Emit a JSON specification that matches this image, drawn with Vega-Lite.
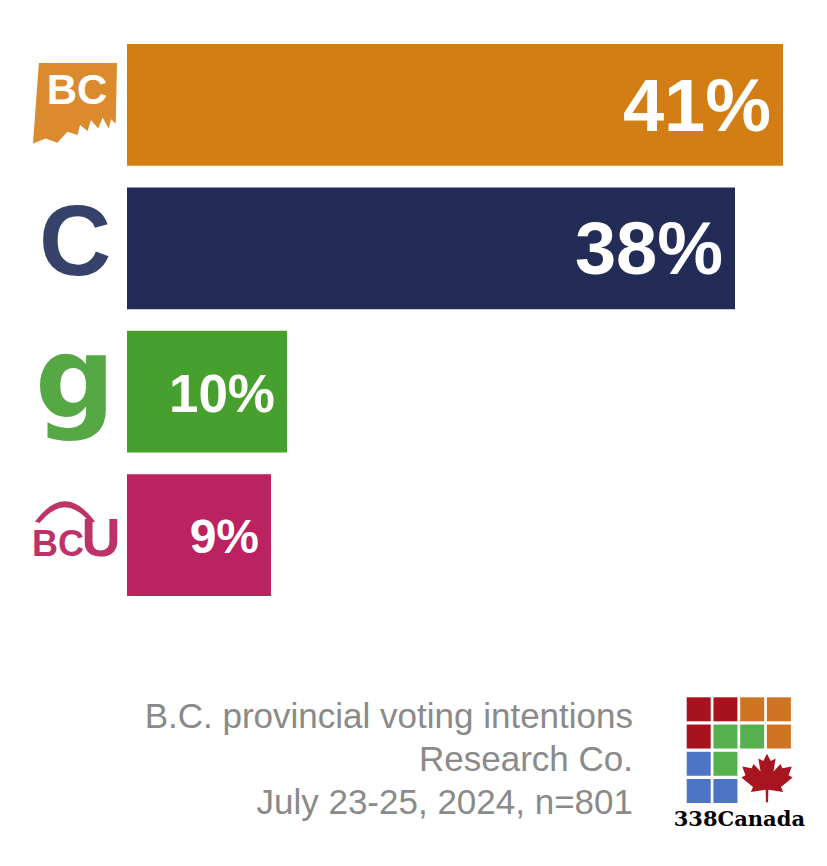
{
  "$schema": "https://vega.github.io/schema/vega-lite/v6.json",
  "width": 827,
  "height": 866,
  "autosize": {"type": "none"},
  "padding": 0,
  "background": "white",
  "config": {"view": {"stroke": null}, "font": "Liberation Sans"},
  "datasets": {
    "parties": [
      {"party": "NDP", "pct": 41, "label": "41%"},
      {"party": "Conservative", "pct": 38, "label": "38%"},
      {"party": "Green", "pct": 10, "label": "10%"},
      {"party": "United", "pct": 9, "label": "9%"}
    ],
    "grid": [
      {"row": 1, "col": 1, "colour": "red"},
      {"row": 1, "col": 2, "colour": "red"},
      {"row": 1, "col": 3, "colour": "orange"},
      {"row": 1, "col": 4, "colour": "orange"},
      {"row": 2, "col": 1, "colour": "red"},
      {"row": 2, "col": 2, "colour": "green"},
      {"row": 2, "col": 3, "colour": "green"},
      {"row": 2, "col": 4, "colour": "orange"},
      {"row": 3, "col": 1, "colour": "blue"},
      {"row": 3, "col": 2, "colour": "green"},
      {"row": 4, "col": 1, "colour": "blue"},
      {"row": 4, "col": 2, "colour": "blue"}
    ],
    "footer": [
      {"line": 1, "text": "B.C. provincial voting intentions"},
      {"line": 2, "text": "Research Co."},
      {"line": 3, "text": "July 23-25, 2024, n=801"}
    ]
  },
  "layer": [
    {
      "data": {"name": "parties"},
      "encoding": {
        "y": {
          "field": "party",
          "type": "nominal",
          "scale": {
            "domain": ["NDP", "Conservative", "Green", "United"],
            "range": [44, 596],
            "paddingInner": 0.151,
            "paddingOuter": 0
          },
          "axis": null
        },
        "x": {
          "field": "pct",
          "type": "quantitative",
          "scale": {"domain": [-7.9375, 43.75], "nice": false, "zero": false},
          "axis": null
        }
      },
      "layer": [
        {
          "mark": {"type": "bar"},
          "encoding": {
            "x2": {"datum": 0},
            "color": {
              "field": "party",
              "type": "nominal",
              "scale": {
                "domain": ["NDP", "Conservative", "Green", "United"],
                "range": ["#D37E15", "#232C56", "#47A02E", "#BC2160"]
              },
              "legend": null
            }
          }
        },
        {
          "transform": [{"filter": "datum.pct > 20"}],
          "mark": {"type": "text", "align": "right", "baseline": "middle", "dx": -12, "dy": 4, "fontWeight": "bold", "fill": "white", "fontSize": 74},
          "encoding": {"text": {"field": "label"}}
        },
        {
          "transform": [{"filter": "datum.party === 'Green'"}],
          "mark": {"type": "text", "align": "right", "baseline": "middle", "dx": -12, "dy": 4, "fontWeight": "bold", "fill": "white", "fontSize": 53},
          "encoding": {"text": {"field": "label"}}
        },
        {
          "transform": [{"filter": "datum.party === 'United'"}],
          "mark": {"type": "text", "align": "right", "baseline": "middle", "dx": -12, "dy": 4, "fontWeight": "bold", "fill": "white", "fontSize": 48},
          "encoding": {"text": {"field": "label"}}
        },
        {
          "transform": [{"filter": "datum.party === 'NDP'"}],
          "mark": {
            "type": "point",
            "shape": "M -0.86 -1 L 1 -1 L 0.97 0.45 L 0.86 0.34 L 0.8 0.56 L 0.66 0.3 L 0.55 0.56 L 0.38 0.36 L 0.3 0.62 L 0.12 0.48 L 0.06 0.72 L -0.18 0.64 L -0.42 0.9 L -0.7 0.8 L -1 0.92 Z",
            "filled": true,
            "size": 7056,
            "color": "#DB8A2D",
            "opacity": 1
          },
          "encoding": {"x": {"datum": -3.25}}
        },
        {
          "transform": [{"filter": "datum.party === 'NDP'"}],
          "mark": {"type": "text", "text": "BC", "fontSize": 42, "fontWeight": "bold", "color": "white", "align": "center", "baseline": "middle", "dy": -14},
          "encoding": {"x": {"datum": -3.125}}
        },
        {
          "transform": [{"filter": "datum.party === 'Conservative'"}],
          "mark": {"type": "text", "text": "C", "fontSize": 100, "fontWeight": "bold", "color": "#37426A", "align": "center", "baseline": "middle", "dy": -3},
          "encoding": {"x": {"datum": -3.25}}
        },
        {
          "transform": [{"filter": "datum.party === 'Green'"}],
          "mark": {"type": "text", "text": "g", "fontSize": 112, "fontWeight": "bold", "font": "DejaVu Sans", "color": "#55A843", "align": "center", "baseline": "alphabetic", "dy": 25},
          "encoding": {"x": {"datum": -3.25}}
        },
        {
          "transform": [{"filter": "datum.party === 'United'"}],
          "mark": {
            "type": "point",
            "shape": "M -1 -0.45 Q 0 -1.8 1 -0.45 L 0.85 -0.4 Q 0 -1.45 -0.85 -0.4 Z",
            "filled": true,
            "size": 3600,
            "color": "#BD3268",
            "opacity": 1
          },
          "encoding": {"x": {"datum": -3.875}}
        },
        {
          "transform": [{"filter": "datum.party === 'United'"}],
          "mark": {"type": "text", "text": "BC", "fontSize": 36, "fontWeight": "bold", "color": "#BD3268", "align": "center", "baseline": "alphabetic", "dy": 21},
          "encoding": {"x": {"datum": -4.3125}}
        },
        {
          "transform": [{"filter": "datum.party === 'United'"}],
          "mark": {"type": "text", "text": "U", "fontSize": 54, "fontWeight": "bold", "color": "#BD3268", "align": "center", "baseline": "alphabetic", "dy": 21},
          "encoding": {"x": {"datum": -1.625}}
        }
      ]
    },
    {
      "layer": [
        {
          "data": {"name": "grid"},
          "mark": {"type": "point", "shape": "square", "filled": true, "size": 576, "opacity": 1},
          "encoding": {
            "x": {
              "field": "col",
              "type": "quantitative",
              "scale": {"domain": [1, 4], "range": [698.7, 778.9], "nice": false, "zero": false},
              "axis": null
            },
            "y": {
              "field": "row",
              "type": "quantitative",
              "scale": {"domain": [1, 4], "range": [709.3, 791], "nice": false, "zero": false},
              "axis": null
            },
            "color": {
              "field": "colour",
              "type": "nominal",
              "scale": {
                "domain": ["red", "orange", "green", "blue"],
                "range": ["#A6121E", "#CF7420", "#56B04E", "#4E74C6"]
              },
              "legend": null
            }
          }
        },
        {
          "data": {"values": [{}]},
          "mark": {
            "type": "point",
            "shape": "M 0 -1 L 0.14 -0.73 L 0.32 -0.82 L 0.24 -0.34 L 0.5 -0.62 L 0.57 -0.46 L 0.92 -0.53 L 0.8 -0.2 L 0.95 -0.12 L 0.52 0.24 L 0.6 0.42 L 0.05 0.34 L 0.04 0.8 L -0.04 0.8 L -0.05 0.34 L -0.6 0.42 L -0.52 0.24 L -0.95 -0.12 L -0.8 -0.2 L -0.92 -0.53 L -0.57 -0.46 L -0.5 -0.62 L -0.24 -0.34 L -0.32 -0.82 L -0.14 -0.73 Z",
            "filled": true,
            "size": 2900,
            "color": "#A81420",
            "opacity": 1
          },
          "encoding": {"x": {"datum": 3.555}, "y": {"datum": 3.62}}
        },
        {
          "data": {"values": [{}]},
          "mark": {"type": "text", "text": "338Canada", "font": "DejaVu Serif", "fontWeight": "bold", "fontSize": 21, "align": "center", "baseline": "alphabetic", "color": "black"},
          "encoding": {"x": {"datum": 2.52}, "y": {"datum": 5.27}}
        }
      ]
    },
    {
      "data": {"name": "footer"},
      "mark": {"type": "text", "align": "right", "baseline": "alphabetic", "fontSize": 35, "color": "#8a8a8a", "font": "Liberation Sans"},
      "encoding": {
        "x": {"datum": 1, "scale": {"domain": [0, 1], "range": [0, 633]}, "axis": null},
        "y": {
          "field": "line",
          "type": "quantitative",
          "scale": {"domain": [1, 3], "range": [728, 814], "nice": false, "zero": false},
          "axis": null
        },
        "text": {"field": "text"}
      }
    }
  ],
  "resolve": {
    "scale": {"x": "independent", "y": "independent", "color": "independent"}
  }
}
